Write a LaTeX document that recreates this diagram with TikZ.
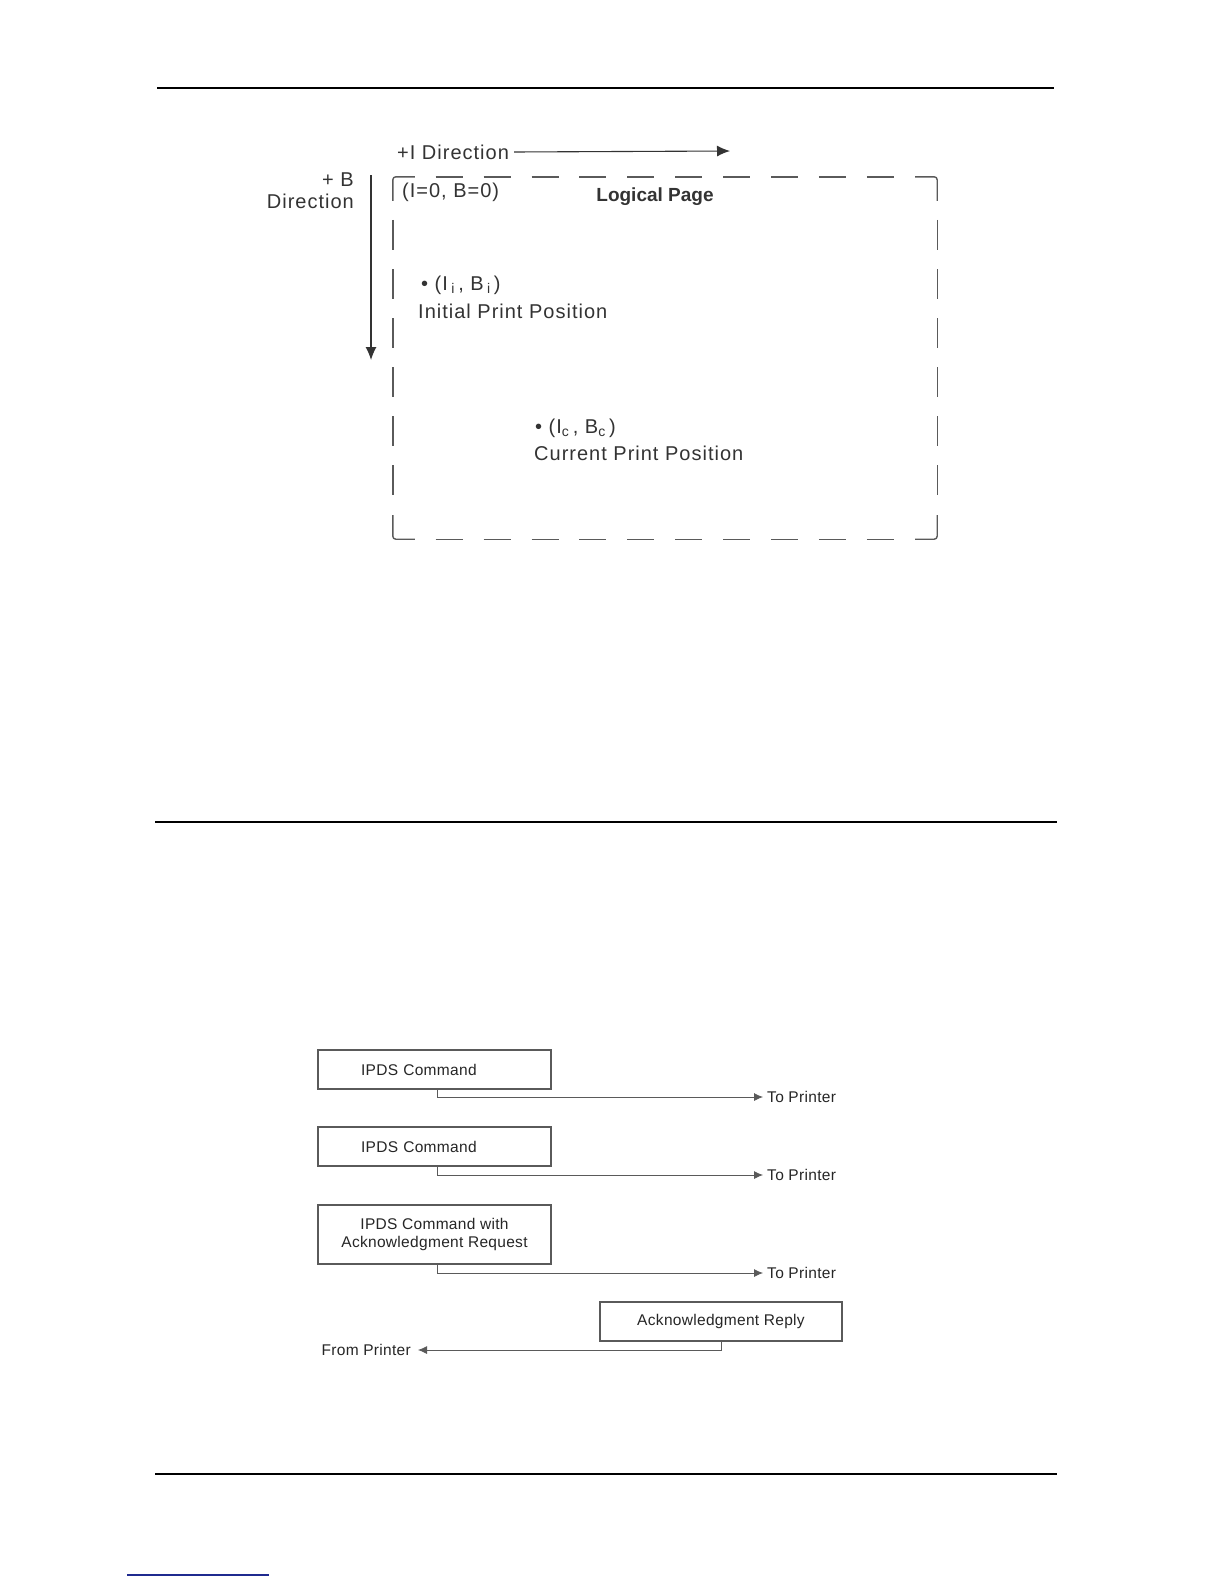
\documentclass[tikz,border=0pt]{standalone}
\usepackage{fontspec}
\setmainfont{Liberation Sans}
\newfontfamily\trackedfont[LetterSpace=5]{Liberation Sans}
\newfontfamily\lighttrackedfont[LetterSpace=2]{Liberation Sans}
\usepackage{xcolor}
\usetikzlibrary{arrows.meta,calc,positioning}
\definecolor{inkgray}{HTML}{333333}
\definecolor{edgegray}{HTML}{5A5A5A}
\definecolor{linkblue}{HTML}{1F2A8F}
\tikzset{
  rule/.style={
    draw=black,
    line width=1.3pt
  },
  label big/.style={
    font=\trackedfont\fontsize{20}{22}\selectfont,
    text=inkgray,
    inner sep=0pt
  },
  label title/.style={
    font=\fontsize{19}{22}\selectfont\bfseries,
    text=inkgray,
    inner sep=0pt
  },
  page area/.style={
    minimum width=544pt,
    minimum height=362pt,
    inner sep=0pt
  },
  page edge/.style={
    draw=edgegray,
    line width=1.4pt
  },
  page corner/.style={page edge,rounded corners=3pt},
  page edge h/.style={page edge,dash pattern=on 27pt off 20.9pt},
  page edge v/.style={page edge,dash pattern=on 30pt off 19.1pt},
  direction/.style={
    -{Latex[length=13pt,width=11pt]},
    line width=1.1pt,
    draw=inkgray
  },
  cmdbox/.style={
    draw=edgegray,
    line width=1.2pt,
    minimum width=233pt,
    minimum height=39pt,
    align=center,
    text=black!85,
    font=\lighttrackedfont\fontsize{15.5}{18}\selectfont,
    inner sep=2pt
  },
  left cmdbox/.style={cmdbox,text width=147pt,inner xsep=43pt,align=left},
  tall cmdbox/.style={cmdbox,minimum height=59pt},
  reply box/.style={cmdbox,minimum width=242pt},
  endlabel/.style={
    text=black!85,
    font=\lighttrackedfont\fontsize{15.5}{18}\selectfont,
    inner ysep=0pt,
    inner xsep=4pt
  },
  link/.style={
    -{Latex[length=9pt,width=8pt]},
    line width=0.8pt,
    draw=edgegray
  }
}

\begin{document}
\begin{tikzpicture}[x=1pt,y=-1pt]
  \useasboundingbox[fill=white] (0,0) rectangle (1224,1584);

  % page rules
  \draw[rule] (157,88) -- (1054,88);
  \draw[rule] (155,822) -- (1057,822);
  \draw[rule] (155,1474) -- (1057,1474);
  \draw[draw=linkblue,line width=1.2pt] (127,1575) -- (269,1575);

  % logical page, corners solid and sides dashed
  \node[page area] (page) at (665,358) {};
  \draw[page corner] ($(page.north west)+(0,24)$) -- (page.north west) -- ++(22,0);
  \draw[page corner] ($(page.north east)+(-22,0)$) -- (page.north east) -- ++(0,24);
  \draw[page corner] ($(page.south east)+(0,-24)$) -- (page.south east) -- ++(-22,0);
  \draw[page corner] ($(page.south west)+(22,0)$) -- (page.south west) -- ++(0,-24);
  \draw[page edge h] ($(page.north west)+(42.9,0)$) -- ($(page.north east)+(-42.9,0)$);
  \draw[page edge h] ($(page.south west)+(42.9,0)$) -- ($(page.south east)+(-42.9,0)$);
  \draw[page edge v] ($(page.north west)+(0,43.1)$) -- ($(page.south west)+(0,-43.1)$);
  \draw[page edge v] ($(page.north east)+(0,43.1)$) -- ($(page.south east)+(0,-43.1)$);

  \node[label big,anchor=west] (idir) at (397,152) {+I Direction};
  \coordinate (iend) at (730,151);
  \draw[direction] ([xshift=5pt]idir.east) -- (iend);

  \node[label big,anchor=east,align=right] (bdir) at (354,191) {+ B\\Direction};
  \coordinate (btop) at (371,175);
  \coordinate (bend) at (371,360);
  \draw[direction] (btop) -- (bend);

  \node[label big,anchor=west] (origin) at (402,192) {(I=0,\ B=0)};
  \node[label title] (pagename) at (655,197) {Logical Page};

  \node[label big,anchor=west] (initpt) at (421,285)
    {\textbullet\ (I\,\textsubscript{i}\,, B\,\textsubscript{i}\,)};
  \node[label big,anchor=west] (initname) at (418,311) {Initial Print Position};

  \node[label big,anchor=west] (curpt) at (535,428)
    {\textbullet\ (I\textsubscript{c}\,, B\textsubscript{c}\,)};
  \node[label big,anchor=west] (curname) at (534,453) {Current Print Position};

  % command exchange
  \node[left cmdbox] (cmd1)  at (434.5,1069.5) {IPDS Command};
  \node[left cmdbox] (cmd2)  at (434.5,1146.5) {IPDS Command};
  \node[tall cmdbox] (cmd3)  at (434.5,1234.5)
    {IPDS Command with\\Acknowledgment Request};
  \node[reply box]   (reply) at (721,1321.5) {Acknowledgment Reply};

  \node[endlabel,anchor=west] (to1) at (763,1097) {To Printer};
  \node[endlabel,anchor=west] (to2) at (763,1175) {To Printer};
  \node[endlabel,anchor=west] (to3) at (763,1273) {To Printer};
  \node[endlabel,anchor=east,inner xsep=7pt] (from) at (418,1350) {From Printer};

  \draw[link] ([xshift=3pt]cmd1.south) |- (to1.west);
  \draw[link] ([xshift=3pt]cmd2.south) |- (to2.west);
  \draw[link] ([xshift=3pt]cmd3.south) |- (to3.west);
  \draw[link] (reply.south) |- (from.east);
\end{tikzpicture}
\end{document}
